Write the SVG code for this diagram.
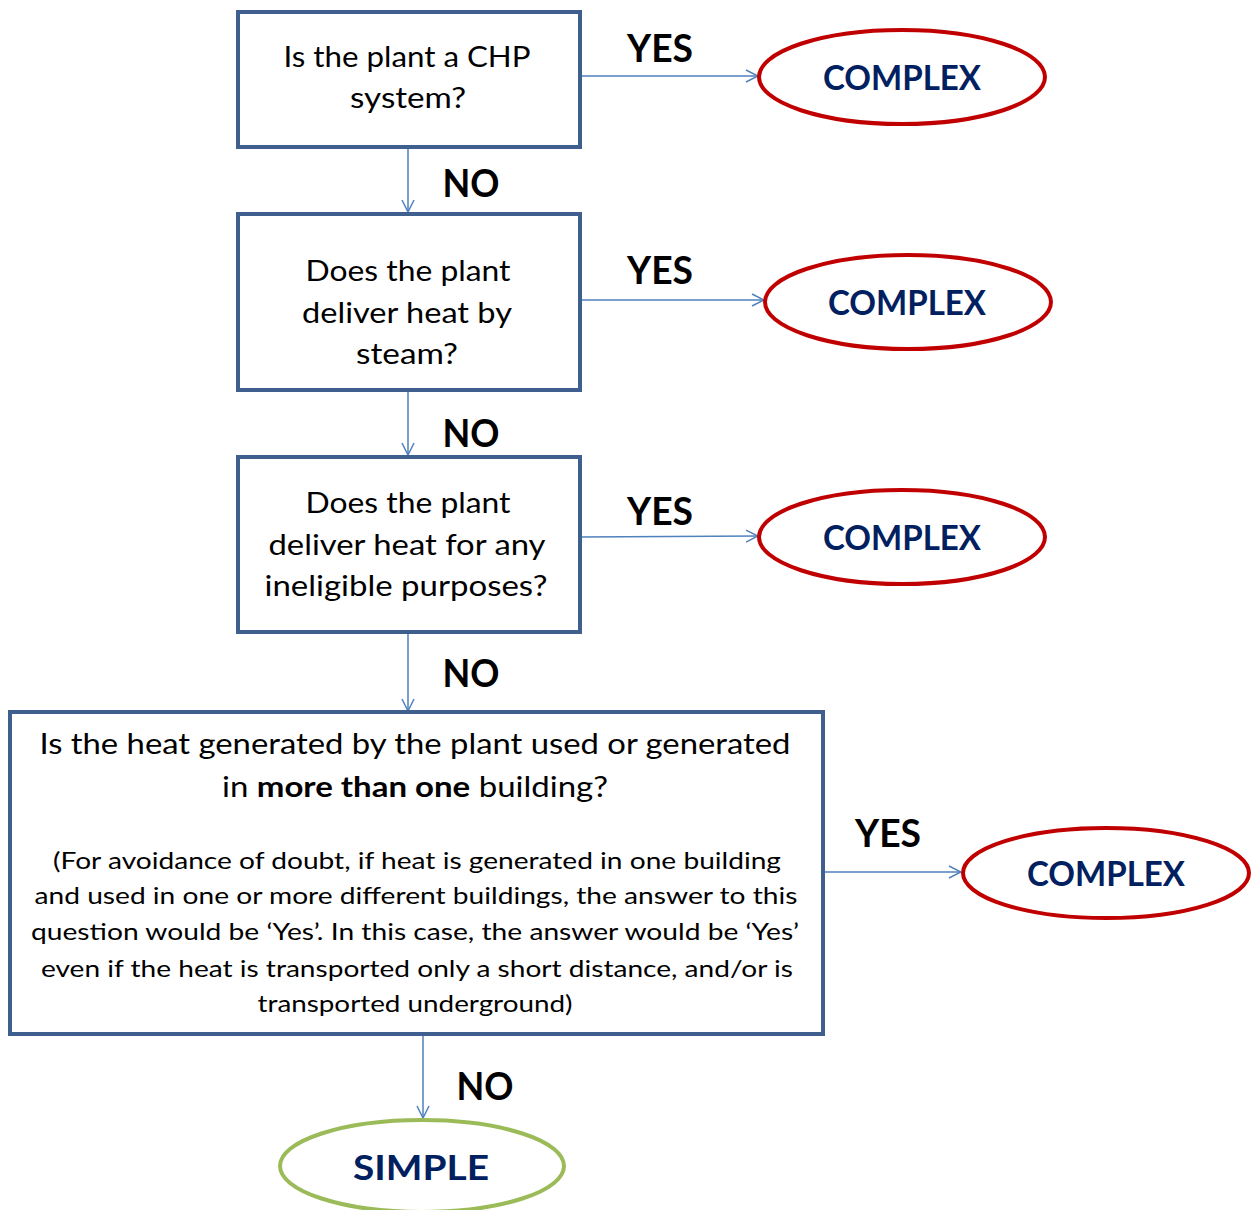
<svg xmlns="http://www.w3.org/2000/svg" width="1253" height="1210" viewBox="0 0 1253 1210">
  <defs>
    <marker id="arrow" viewBox="0 0 14 14" refX="13" refY="7" markerWidth="14" markerHeight="14" markerUnits="userSpaceOnUse" orient="auto">
      <path d="M1,1 L13,7 L1,13" fill="none" stroke="#4F81BD" stroke-width="1.5"/>
    </marker>
    <style>
      .box { fill: #ffffff; stroke: #3F5F8F; stroke-width: 4; }
      .complex { fill: #ffffff; stroke: #C00000; stroke-width: 4; }
      .simple { fill: #ffffff; stroke: #9BBB59; stroke-width: 4; }
      .q { font-family: Lato, "Liberation Sans", sans-serif; font-size: 28px; fill: #000000; text-anchor: middle; }
      .note { font-family: Lato, "Liberation Sans", sans-serif; font-size: 24px; fill: #000000; text-anchor: middle; }
      .lbl { font-family: Lato, "Liberation Sans", sans-serif; font-size: 38px; font-weight: bold; fill: #000000; text-anchor: middle; }
      .res { font-family: Lato, "Liberation Sans", sans-serif; font-size: 34px; font-weight: bold; fill: #002060; text-anchor: middle; }
      .conn { fill: none; stroke: #4F81BD; stroke-width: 1.5; marker-end: url(#arrow); }
    </style>
  </defs>
  <rect width="1253" height="1210" fill="#ffffff"/>

  <!-- connectors -->
  <g id="connectors">
    <line class="conn" x1="408" y1="148" x2="408" y2="212"/>
    <line class="conn" x1="408" y1="391" x2="408" y2="455"/>
    <line class="conn" x1="408" y1="633" x2="408" y2="711"/>
    <line class="conn" x1="423" y1="1035" x2="423" y2="1118"/>
    <line class="conn" x1="580" y1="76" x2="758" y2="76"/>
    <line class="conn" x1="580" y1="300" x2="764" y2="300"/>
    <line class="conn" x1="580" y1="537" x2="758" y2="536"/>
    <line class="conn" x1="823" y1="872" x2="961" y2="872"/>
    <text class="lbl" x="660" y="62" textLength="66" lengthAdjust="spacingAndGlyphs">YES</text>
    <text class="lbl" x="660" y="284" textLength="66" lengthAdjust="spacingAndGlyphs">YES</text>
    <text class="lbl" x="660" y="525" textLength="66" lengthAdjust="spacingAndGlyphs">YES</text>
    <text class="lbl" x="888" y="847" textLength="66" lengthAdjust="spacingAndGlyphs">YES</text>
    <text class="lbl" x="471" y="197" textLength="57" lengthAdjust="spacingAndGlyphs">NO</text>
    <text class="lbl" x="471" y="447" textLength="57" lengthAdjust="spacingAndGlyphs">NO</text>
    <text class="lbl" x="471" y="687" textLength="57" lengthAdjust="spacingAndGlyphs">NO</text>
    <text class="lbl" x="485" y="1100" textLength="57" lengthAdjust="spacingAndGlyphs">NO</text>
  </g>

  <!-- question 1 -->
  <g id="q-chp">
    <rect class="box" x="238" y="12" width="342" height="135"/>
    <text class="q" x="407" y="67" textLength="247" lengthAdjust="spacingAndGlyphs">Is the plant a CHP</text>
    <text class="q" x="408" y="108" textLength="116" lengthAdjust="spacingAndGlyphs">system?</text>
  </g>

  <!-- question 2 -->
  <g id="q-steam">
    <rect class="box" x="238" y="214" width="342" height="176"/>
    <text class="q" x="408" y="281" textLength="205" lengthAdjust="spacingAndGlyphs">Does the plant</text>
    <text class="q" x="407" y="323" textLength="210" lengthAdjust="spacingAndGlyphs">deliver heat by</text>
    <text class="q" x="407" y="364" textLength="102" lengthAdjust="spacingAndGlyphs">steam?</text>
  </g>

  <!-- question 3 -->
  <g id="q-ineligible">
    <rect class="box" x="238" y="457" width="342" height="175"/>
    <text class="q" x="408" y="513" textLength="205" lengthAdjust="spacingAndGlyphs">Does the plant</text>
    <text class="q" x="407" y="555" textLength="277" lengthAdjust="spacingAndGlyphs">deliver heat for any</text>
    <text class="q" x="406" y="596" textLength="283" lengthAdjust="spacingAndGlyphs">ineligible purposes?</text>
  </g>

  <!-- question 4 -->
  <g id="q-buildings">
    <rect class="box" x="10" y="712" width="813" height="322"/>
    <text class="q" x="415" y="754" textLength="751" lengthAdjust="spacingAndGlyphs">Is the heat generated by the plant used or generated</text>
    <text class="q" x="415" y="797" textLength="386" lengthAdjust="spacingAndGlyphs">in <tspan font-weight="bold">more than one</tspan> building?</text>
    <text class="note" x="417" y="869" textLength="728" lengthAdjust="spacingAndGlyphs">(For avoidance of doubt, if heat is generated in one building</text>
    <text class="note" x="416" y="904" textLength="763" lengthAdjust="spacingAndGlyphs">and used in one or more different buildings, the answer to this</text>
    <text class="note" x="415" y="940" textLength="768" lengthAdjust="spacingAndGlyphs">question would be ‘Yes’. In this case, the answer would be ‘Yes’</text>
    <text class="note" x="417" y="977" textLength="752" lengthAdjust="spacingAndGlyphs">even if the heat is transported only a short distance, and/or is</text>
    <text class="note" x="415" y="1012" textLength="315" lengthAdjust="spacingAndGlyphs">transported underground)</text>
  </g>

  <!-- outcomes -->
  <g id="complex-1">
    <ellipse class="complex" cx="902" cy="77" rx="143" ry="47"/>
    <text class="res" x="902" y="90" textLength="158" lengthAdjust="spacingAndGlyphs">COMPLEX</text>
  </g>
  <g id="complex-2">
    <ellipse class="complex" cx="908" cy="302" rx="143" ry="47"/>
    <text class="res" x="907" y="315" textLength="158" lengthAdjust="spacingAndGlyphs">COMPLEX</text>
  </g>
  <g id="complex-3">
    <ellipse class="complex" cx="902" cy="537" rx="143" ry="47"/>
    <text class="res" x="902" y="550" textLength="158" lengthAdjust="spacingAndGlyphs">COMPLEX</text>
  </g>
  <g id="complex-4">
    <ellipse class="complex" cx="1106" cy="873" rx="143" ry="45"/>
    <text class="res" x="1106" y="886" textLength="158" lengthAdjust="spacingAndGlyphs">COMPLEX</text>
  </g>
  <g id="simple">
    <ellipse class="simple" cx="422" cy="1166" rx="142" ry="46"/>
    <text class="res" x="421" y="1180" textLength="136" lengthAdjust="spacingAndGlyphs">SIMPLE</text>
  </g>
</svg>
